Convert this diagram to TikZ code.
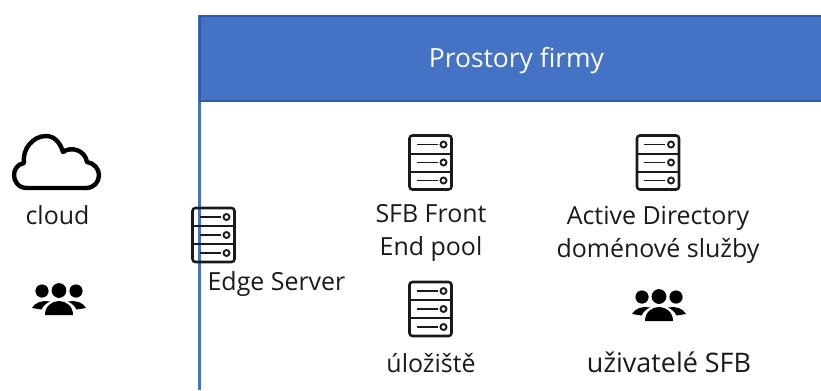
\documentclass[tikz,border=0pt]{standalone}
\usepackage{fontspec}
\setmainfont{Open Sans}
\definecolor{hdr}{HTML}{4472C4}
\definecolor{hdredge}{HTML}{2F5AA8}
\definecolor{ink}{HTML}{1A1A1A}
\tikzset{
  x=0.75pt,y=-0.75pt,
  label text/.style={font=\fontsize{18.7pt}{24.8pt}\selectfont,text=ink,align=center,inner sep=0pt},
  server/.pic={
    \draw[line width=1.9pt,rounded corners=2.2pt,draw=ink] (-21,-27) rectangle (21,27);
    \draw[line width=1.5pt,draw=ink] (-21,-9) -- (21,-9) (-21,9) -- (21,9);
    \foreach \yy in {-18,0,18}{
      \draw[line width=1.4pt,draw=ink] (-14,\yy) -- (7,\yy);
      \draw[line width=1.4pt,draw=ink] (13,\yy) circle (3);
    }
  },
  people/.pic={
    \fill[black] (-17,-9) circle (6.6) (0,-9.5) circle (7.4) (17,-9) circle (6.6);
    \fill[black] (-14,15) -- (14,15) .. controls (14,6) and (7,1) .. (0,1) .. controls (-7,1) and (-14,6) .. (-14,15) -- cycle;
    \fill[black] (-27,8) .. controls (-24,2) and (-16,0) .. (-9,1.5) .. controls (-13,3.5) and (-15.5,5.5) .. (-17.5,9.5) -- cycle;
    \fill[black] (27,8) .. controls (24,2) and (16,0) .. (9,1.5) .. controls (13,3.5) and (15.5,5.5) .. (17.5,9.5) -- cycle;
  }
}
\begin{document}
\begin{tikzpicture}
\useasboundingbox (0,0) rectangle (821,390);
\fill[white] (0,0) rectangle (821,390);
% company premises
\draw[draw=hdr,line width=2.6pt] (199.5,15) -- (199.5,390);
\fill[hdr] (199,15) rectangle (821,101);
\draw[hdredge,line width=1.5pt] (821,15.5) -- (199.5,15.5) -- (199.5,101) -- (821,101);
\node[font=\fontsize{19.8pt}{26pt}\selectfont,text=white,inner sep=0pt] (title) at (516.5,60.5) {Prostory firmy};
% cloud
\draw[line width=3.3pt,draw=black,line join=round]
  (27,188) .. controls (18,188) and (14,181) .. (14,175)
  .. controls (14,169) and (18,164) .. (24,163)
  .. controls (22,149) and (33,136) .. (46,136)
  .. controls (54,136) and (60,142) .. (63,152)
  .. controls (71,146) and (85,150) .. (87,162)
  .. controls (94,163) and (99,169) .. (99,175)
  .. controls (99,182) and (94,188) .. (86,188) -- cycle;
\node[label text] (cloudlbl) at (57.5,215) {cloud};
\pic at (59,300) {people};
% edge
\pic at (213.5,235) {server};
\node[label text] (edge) at (276.5,284) {Edge Server};
% internal
\pic at (430.5,162.5) {server};
\node[label text] (fe) at (431,232.5) {SFB Front\\End pool};
\pic at (658,162.5) {server};
\node[label text] (ad) at (658,234.5) {Active Directory\\doménové služby};
\pic at (430.5,309) {server};
\node[label text] (store) at (431,363) {úložiště};
\pic at (659,306) {people};
\node[label text,font=\fontsize{20.2pt}{25pt}\selectfont] (users) at (669,362) {uživatelé SFB};
\end{tikzpicture}
\end{document}
